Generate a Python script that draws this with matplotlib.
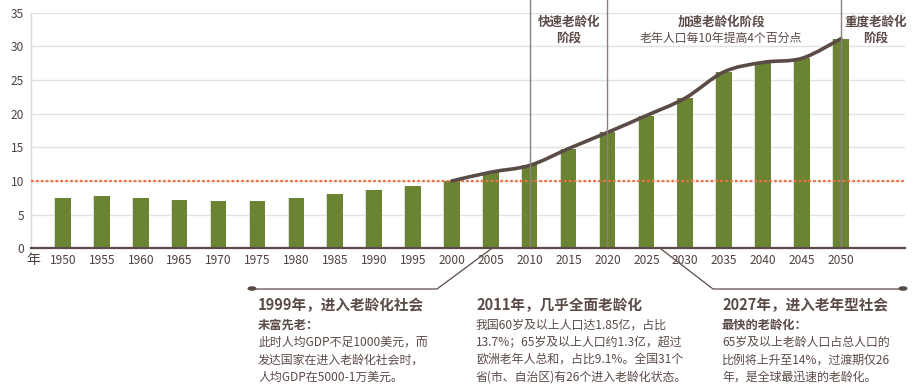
import matplotlib
matplotlib.use("Agg")
import matplotlib.pyplot as plt
from matplotlib.path import Path
from matplotlib.patches import PathPatch, Circle
from matplotlib.lines import Line2D
import numpy as np

plt.rcParams['font.family'] = ['Noto Sans CJK SC', 'DejaVu Sans']

years = [1950, 1955, 1960, 1965, 1970, 1975, 1980, 1985, 1990, 1995, 2000,
         2005, 2010, 2015, 2020, 2025, 2030, 2035, 2040, 2045, 2050]
values = [7.5, 7.8, 7.5, 7.2, 7.0, 7.0, 7.5, 8.1, 8.7, 9.3, 10.0,
          11.3, 12.3, 14.8, 17.2, 19.7, 22.3, 26.2, 27.5, 28.3, 31.1]
trend_years = [2000, 2005, 2010, 2015, 2020, 2025, 2030, 2035, 2040, 2045, 2050]
trend_values = [10.0, 11.3, 12.3, 14.8, 17.2, 19.7, 22.3, 26.2, 27.6, 28.2, 31.1]
threshold = 10
stage_years = [2010, 2020, 2050]
yticks = [0, 5, 10, 15, 20, 25, 30, 35]

W, H = 920, 385
DARK = '#5b4b47'
TXT = '#4e4240'
GREEN = '#6a8434'

fig = plt.figure(figsize=(W / 100, H / 100), dpi=100)
ax = fig.add_axes([31 / W, 1 - 248.3 / H, (905 - 31) / W, (248.3 - 12.5) / H])

def fx(px):
    return px / W

def fy(py):
    return 1 - py / H

idx = np.arange(len(years))
ax.set_xlim(-0.823, 21.65)
ax.set_ylim(0, 35)

# grid
ax.set_yticks(yticks)
ax.yaxis.grid(True, color='#e2e2e2', lw=1)
ax.set_axisbelow(True)

# bars with soft shadow
ax.bar(idx - 0.025, values, width=0.40, color='#dcdfd6', zorder=2)
ax.bar(idx, values, width=0.40, color=GREEN, zorder=3)

# threshold
ax.axhline(threshold, color='#f07040', lw=1.6, ls=(0, (1.2, 1.0)), zorder=4)

# smooth trend line (Catmull-Rom -> Bezier)
tx = np.array([years.index(y) for y in trend_years], dtype=float)
ty = np.array(trend_values, dtype=float)
pts = np.column_stack([tx, ty])
verts = [tuple(pts[0])]
codes = [Path.MOVETO]
for k in range(len(pts) - 1):
    p0 = pts[k - 1] if k > 0 else pts[k]
    p1 = pts[k]
    p2 = pts[k + 1]
    p3 = pts[k + 2] if k + 2 < len(pts) else pts[k + 1]
    c1 = p1 + (p2 - p0) / 6
    c2 = p2 - (p3 - p1) / 6
    verts += [tuple(c1), tuple(c2), tuple(p2)]
    codes += [Path.CURVE4] * 3
ax.add_patch(PathPatch(Path(verts, codes), fill=False, edgecolor=DARK, lw=2.6,
                       zorder=5, capstyle='round', joinstyle='round'))

# stage dividers
for sy in stage_years:
    i = years.index(sy)
    ax.plot([i, i], [0, 36.9], color='#8c807d', lw=1, zorder=6, clip_on=False)

# spines
for s in ['top', 'right']:
    ax.spines[s].set_visible(False)
ax.spines['left'].set_color('#d8d8d8')
ax.spines['left'].set_linewidth(1)
ax.spines['bottom'].set_color(DARK)
ax.spines['bottom'].set_linewidth(1.6)
ax.spines['bottom'].set_zorder(7)

ax.set_xticks(idx)
ax.set_xticklabels([str(y) for y in years])
ax.tick_params(axis='both', length=0, colors=TXT, labelsize=8.6)
ax.tick_params(axis='x', pad=4)
ax.tick_params(axis='y', pad=5)
ax.set_yticklabels([str(v) for v in yticks])

fig.text(fx(33), fy(260), '年', fontsize=10, color=TXT, ha='center', va='center')

# stage titles
fig.text(fx(569), fy(30), '快速老龄化\n阶段', fontsize=9, fontweight='bold', color=DARK,
         ha='center', va='center', linespacing=1.25)
fig.text(fx(721), fy(22), '加速老龄化阶段', fontsize=9, fontweight='bold', color=DARK,
         ha='center', va='center')
fig.text(fx(721), fy(38), '老年人口每10年提高4个百分点', fontsize=8.6, color=DARK,
         ha='center', va='center')
fig.text(fx(876), fy(30), '重度老龄化\n阶段', fontsize=9, fontweight='bold', color=DARK,
         ha='center', va='center', linespacing=1.25)

# leader lines
def leader(xs, ys):
    fig.add_artist(Line2D([fx(x) for x in xs], [fy(y) for y in ys], color=DARK, lw=0.9))

leader([491, 437, 252], [249, 289, 289])
leader([661, 713, 903], [249, 289, 289])
for cx in (252, 903):
    fig.add_artist(Circle((fx(cx), fy(288.5)), radius=3.8 / W, color=DARK,
                          transform=fig.transFigure))

# annotation blocks
def block(x, title, sub, lines):
    fig.text(fx(x), fy(305.5), title, fontsize=10.5, fontweight='bold', color=DARK,
             ha='left', va='center')
    y = 325
    if sub:
        fig.text(fx(x), fy(y), sub, fontsize=8.8, fontweight='bold', color=DARK,
                 ha='left', va='center')
        y += 17.5
    for ln in lines:
        fig.text(fx(x), fy(y), ln, fontsize=8.6, color=DARK, ha='left', va='center')
        y += 17.2

block(258, '1999年，进入老龄化社会', '未富先老：',
      ['此时人均GDP不足1000美元，而', '发达国家在进入老龄化社会时，', '人均GDP在5000-1万美元。'])
block(476, '2011年，几乎全面老龄化', None,
      ['我国60岁及以上人口达1.85亿，占比', '13.7%；65岁及以上人口约1.3亿，超过',
       '欧洲老年人总和，占比9.1%。全国31个', '省(市、自治区)有26个进入老龄化状态。'])
block(722, '2027年，进入老年型社会', '最快的老龄化：',
      ['65岁及以上老龄人口占总人口的', '比例将上升至14%，过渡期仅26', '年，是全球最迅速的老龄化。'])

fig.savefig('out.png', dpi=100)
